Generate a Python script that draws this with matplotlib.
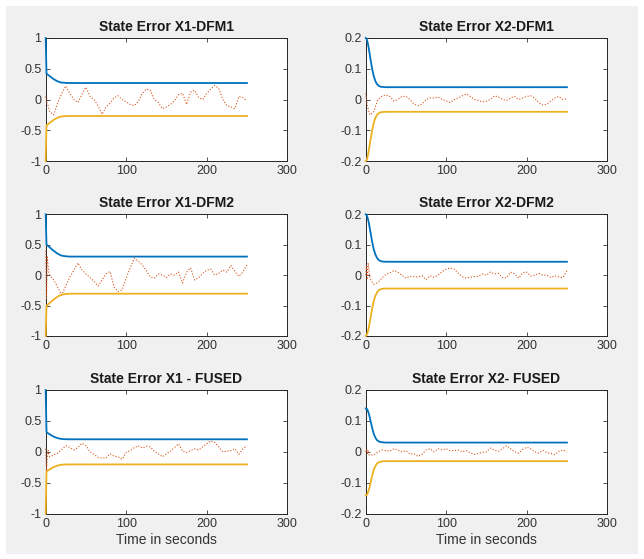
import numpy as np
import matplotlib.pyplot as plt
from matplotlib.patches import Rectangle

plt.rcParams['font.family'] = ['Liberation Sans', 'DejaVu Sans']

# time axis of the state errors (s)
t_err = [0, 1, 2, 3, 4] + list(range(5, 251, 5))

# state errors
err_x1_dfm1 = [0.05, -0.02, -0.08, -0.1, -0.15,
               -0.2, -0.25, -0.05, 0.1, 0.22, 0.1, 0.0, -0.05, 0.08, 0.2,
               0.05, 0.0, -0.1, -0.24, -0.12, -0.06, 0.03, 0.06, 0.0, -0.04,
               -0.08, -0.1, -0.03, 0.1, 0.17, 0.15, 0.0, -0.05, -0.15, -0.12,
               -0.08, -0.02, 0.08, 0.1, -0.08, 0.12, 0.15, 0.03, 0.0, 0.1,
               0.17, 0.23, 0.18, 0.0, -0.1, -0.12, -0.15, 0.05, 0.03, -0.02]
err_x2_dfm1 = [0.02, 0.0, -0.02, -0.03, -0.04,
               -0.05, -0.04, 0.0, 0.01, 0.015, 0.01, -0.005, 0.0, 0.01, 0.01,
               0.0, -0.015, -0.02, -0.015, 0.0, 0.005, 0.005, 0.008, 0.0, -0.005,
               -0.01, 0.0, 0.005, 0.012, 0.018, 0.01, 0.0, -0.003, -0.008, -0.005,
               0.0, 0.012, 0.008, 0.0, -0.003, 0.005, 0.01, 0.0, 0.005, 0.01,
               0.012, 0.005, -0.01, -0.018, -0.015, -0.005, 0.005, 0.01, 0.0, 0.002]
err_x1_dfm2 = [0.4, -0.4, 0.3, 0.15, 0.05,
               0.0, -0.08, -0.2, -0.33, -0.17, -0.03, 0.08, 0.2, 0.085, 0.02,
               -0.04, -0.1, -0.18, -0.08, 0.02, 0.06, -0.2, -0.27, -0.24, -0.05,
               0.12, 0.28, 0.23, 0.17, 0.07, -0.03, -0.05, 0.02, 0.0, -0.04,
               0.02, 0.0, 0.05, -0.13, 0.05, 0.12, -0.08, -0.04, 0.03, 0.08,
               0.1, 0.0, 0.03, 0.085, 0.05, 0.16, 0.06, -0.02, 0.05, 0.17]
err_x2_dfm2 = [0.0, 0.03, -0.01, 0.04, 0.02,
               -0.01, -0.03, -0.025, -0.01, 0.002, 0.008, 0.015, 0.01, 0.0, -0.01,
               -0.004, -0.005, -0.006, -0.002, -0.015, -0.002, -0.007, 0.0, 0.012, 0.019,
               0.024, 0.02, 0.006, -0.005, -0.01, -0.007, -0.005, -0.004, 0.004, 0.0,
               0.01, 0.004, 0.006, -0.008, -0.009, 0.01, 0.004, -0.01, 0.008, 0.01,
               -0.003, 0.0, 0.006, 0.0, 0.0, -0.008, -0.002, -0.006, -0.008, 0.015]
err_x1_fused = [0.05, -0.3, -0.1, 0.02, -0.05,
                -0.08, -0.05, -0.02, 0.04, 0.1, 0.07, 0.03, 0.07, 0.14, 0.1,
                0.0, -0.04, -0.09, -0.1, -0.1, -0.03, -0.07, -0.08, -0.12, -0.01,
                0.02, 0.07, 0.1, 0.06, 0.09, 0.08, 0.01, -0.03, -0.08, -0.03,
                0.01, 0.07, 0.13, 0.01, -0.01, 0.02, 0.05, 0.03, 0.08, 0.13,
                0.18, 0.15, 0.08, 0.0, 0.01, 0.02, 0.05, -0.04, 0.05, 0.1]
err_x2_fused = [0.0, 0.008, -0.005, 0.006, -0.01,
                -0.01, -0.01, 0.0, 0.006, 0.004, 0.002, 0.01, 0.006, 0.0, 0.004,
                -0.007, -0.006, -0.015, -0.008, 0.006, 0.01, 0.0, 0.01, 0.006, 0.01,
                0.004, 0.004, 0.006, 0.0, 0.004, -0.003, -0.008, -0.005, -0.002, 0.0,
                0.012, 0.005, 0.002, 0.01, 0.02, 0.01, 0.0, -0.004, 0.008, 0.015,
                0.01, 0.0, -0.004, 0.005, -0.002, -0.005, -0.009, 0.002, 0.006, 0.0]

# covariance bounds (upper; lower is the mirror)
t_bound = [0, 1, 2, 3, 4, 5, 6, 8, 10, 12, 14, 16, 18, 20, 25, 30, 40, 250]
bound_x1_dfm1 = [1.0, 0.42, 0.41, 0.40, 0.39, 0.38, 0.37, 0.35, 0.33, 0.315, 0.30,
                 0.29, 0.28, 0.275, 0.27, 0.268, 0.268, 0.268]
bound_x2_dfm1 = [0.2, 0.198, 0.19, 0.178, 0.163, 0.147, 0.13, 0.1, 0.076, 0.06, 0.05,
                 0.045, 0.042, 0.041, 0.04, 0.04, 0.04, 0.04]
bound_x1_dfm2 = [1.0, 0.50, 0.49, 0.48, 0.47, 0.455, 0.445, 0.42, 0.40, 0.38, 0.36,
                 0.345, 0.33, 0.32, 0.31, 0.305, 0.305, 0.305]
bound_x2_dfm2 = [0.2, 0.198, 0.192, 0.182, 0.17, 0.155, 0.14, 0.11, 0.085, 0.068, 0.057,
                 0.05, 0.047, 0.045, 0.044, 0.044, 0.044, 0.044]
bound_x1_fused = [1.0, 0.32, 0.31, 0.30, 0.29, 0.285, 0.275, 0.26, 0.245, 0.235, 0.225,
                  0.218, 0.212, 0.208, 0.204, 0.203, 0.203, 0.203]
bound_x2_fused = [0.14, 0.14, 0.137, 0.13, 0.122, 0.112, 0.1, 0.078, 0.058, 0.046, 0.038,
                  0.034, 0.032, 0.031, 0.03, 0.03, 0.03, 0.03]

titles = ['State Error X1-DFM1', 'State Error X2-DFM1',
          'State Error X1-DFM2', 'State Error X2-DFM2',
          'State Error X1 - FUSED', 'State Error X2- FUSED']
errors = [err_x1_dfm1, err_x2_dfm1, err_x1_dfm2, err_x2_dfm2, err_x1_fused, err_x2_fused]
bounds = [bound_x1_dfm1, bound_x2_dfm1, bound_x1_dfm2, bound_x2_dfm2, bound_x1_fused, bound_x2_fused]

x1_ticks = [-1, -0.5, 0, 0.5, 1]
x1_labels = ['-1', '-0.5', '0', '0.5', '1']
x2_ticks = [-0.2, -0.1, 0, 0.1, 0.2]
x2_labels = ['-0.2', '-0.1', '0', '0.1', '0.2']

W, H = 644, 559
fig = plt.figure(figsize=(W / 100, H / 100), dpi=100, facecolor='white')
fig.patches.append(Rectangle((6 / W, 5 / H), 632 / W, 548 / H, transform=fig.transFigure,
                             facecolor='#f0f0f0', edgecolor='none', zorder=-10))

lefts = [45.7, 365.7]
tops = [38, 214.3, 390]
bottoms = [161, 336, 513.7]

tick_col = '#333333'
for i in range(6):
    r, c = i // 2, i % 2
    ax = fig.add_axes([lefts[c] / W, 1 - bottoms[r] / H, 241.5 / W, (bottoms[r] - tops[r]) / H])
    b = np.array(bounds[i])
    ax.plot(t_bound, b, color='#0072BD', lw=1.3, zorder=3, clip_on=False)
    ax.plot(t_err, errors[i], color='#D95319', lw=0.8, ls=':', zorder=3, clip_on=False)
    ax.plot(t_bound, -b, color='#EDB120', lw=1.3, zorder=3, clip_on=False)
    ax.set_xlim(0, 300)
    ax.set_xticks([0, 100, 200, 300])
    ax.set_xticklabels(['0', '100', '200', '300'])
    if c == 0:
        ax.set_ylim(-1, 1)
        ax.set_yticks(x1_ticks)
        ax.set_yticklabels(x1_labels)
    else:
        ax.set_ylim(-0.2, 0.2)
        ax.set_yticks(x2_ticks)
        ax.set_yticklabels(x2_labels)
    ax.tick_params(direction='in', top=True, right=True, length=3, width=0.6,
                   labelsize=9, colors=tick_col, pad=3)
    for s in ax.spines.values():
        s.set_color('#262626')
        s.set_linewidth(0.7)
    ax.set_title(titles[i], fontsize=10, fontweight='bold', color='#1a1a1a', pad=5)
    if r == 2:
        ax.set_xlabel('Time in seconds', fontsize=10, color=tick_col, labelpad=2)

fig.savefig('out.png', dpi=100, facecolor=fig.get_facecolor())
